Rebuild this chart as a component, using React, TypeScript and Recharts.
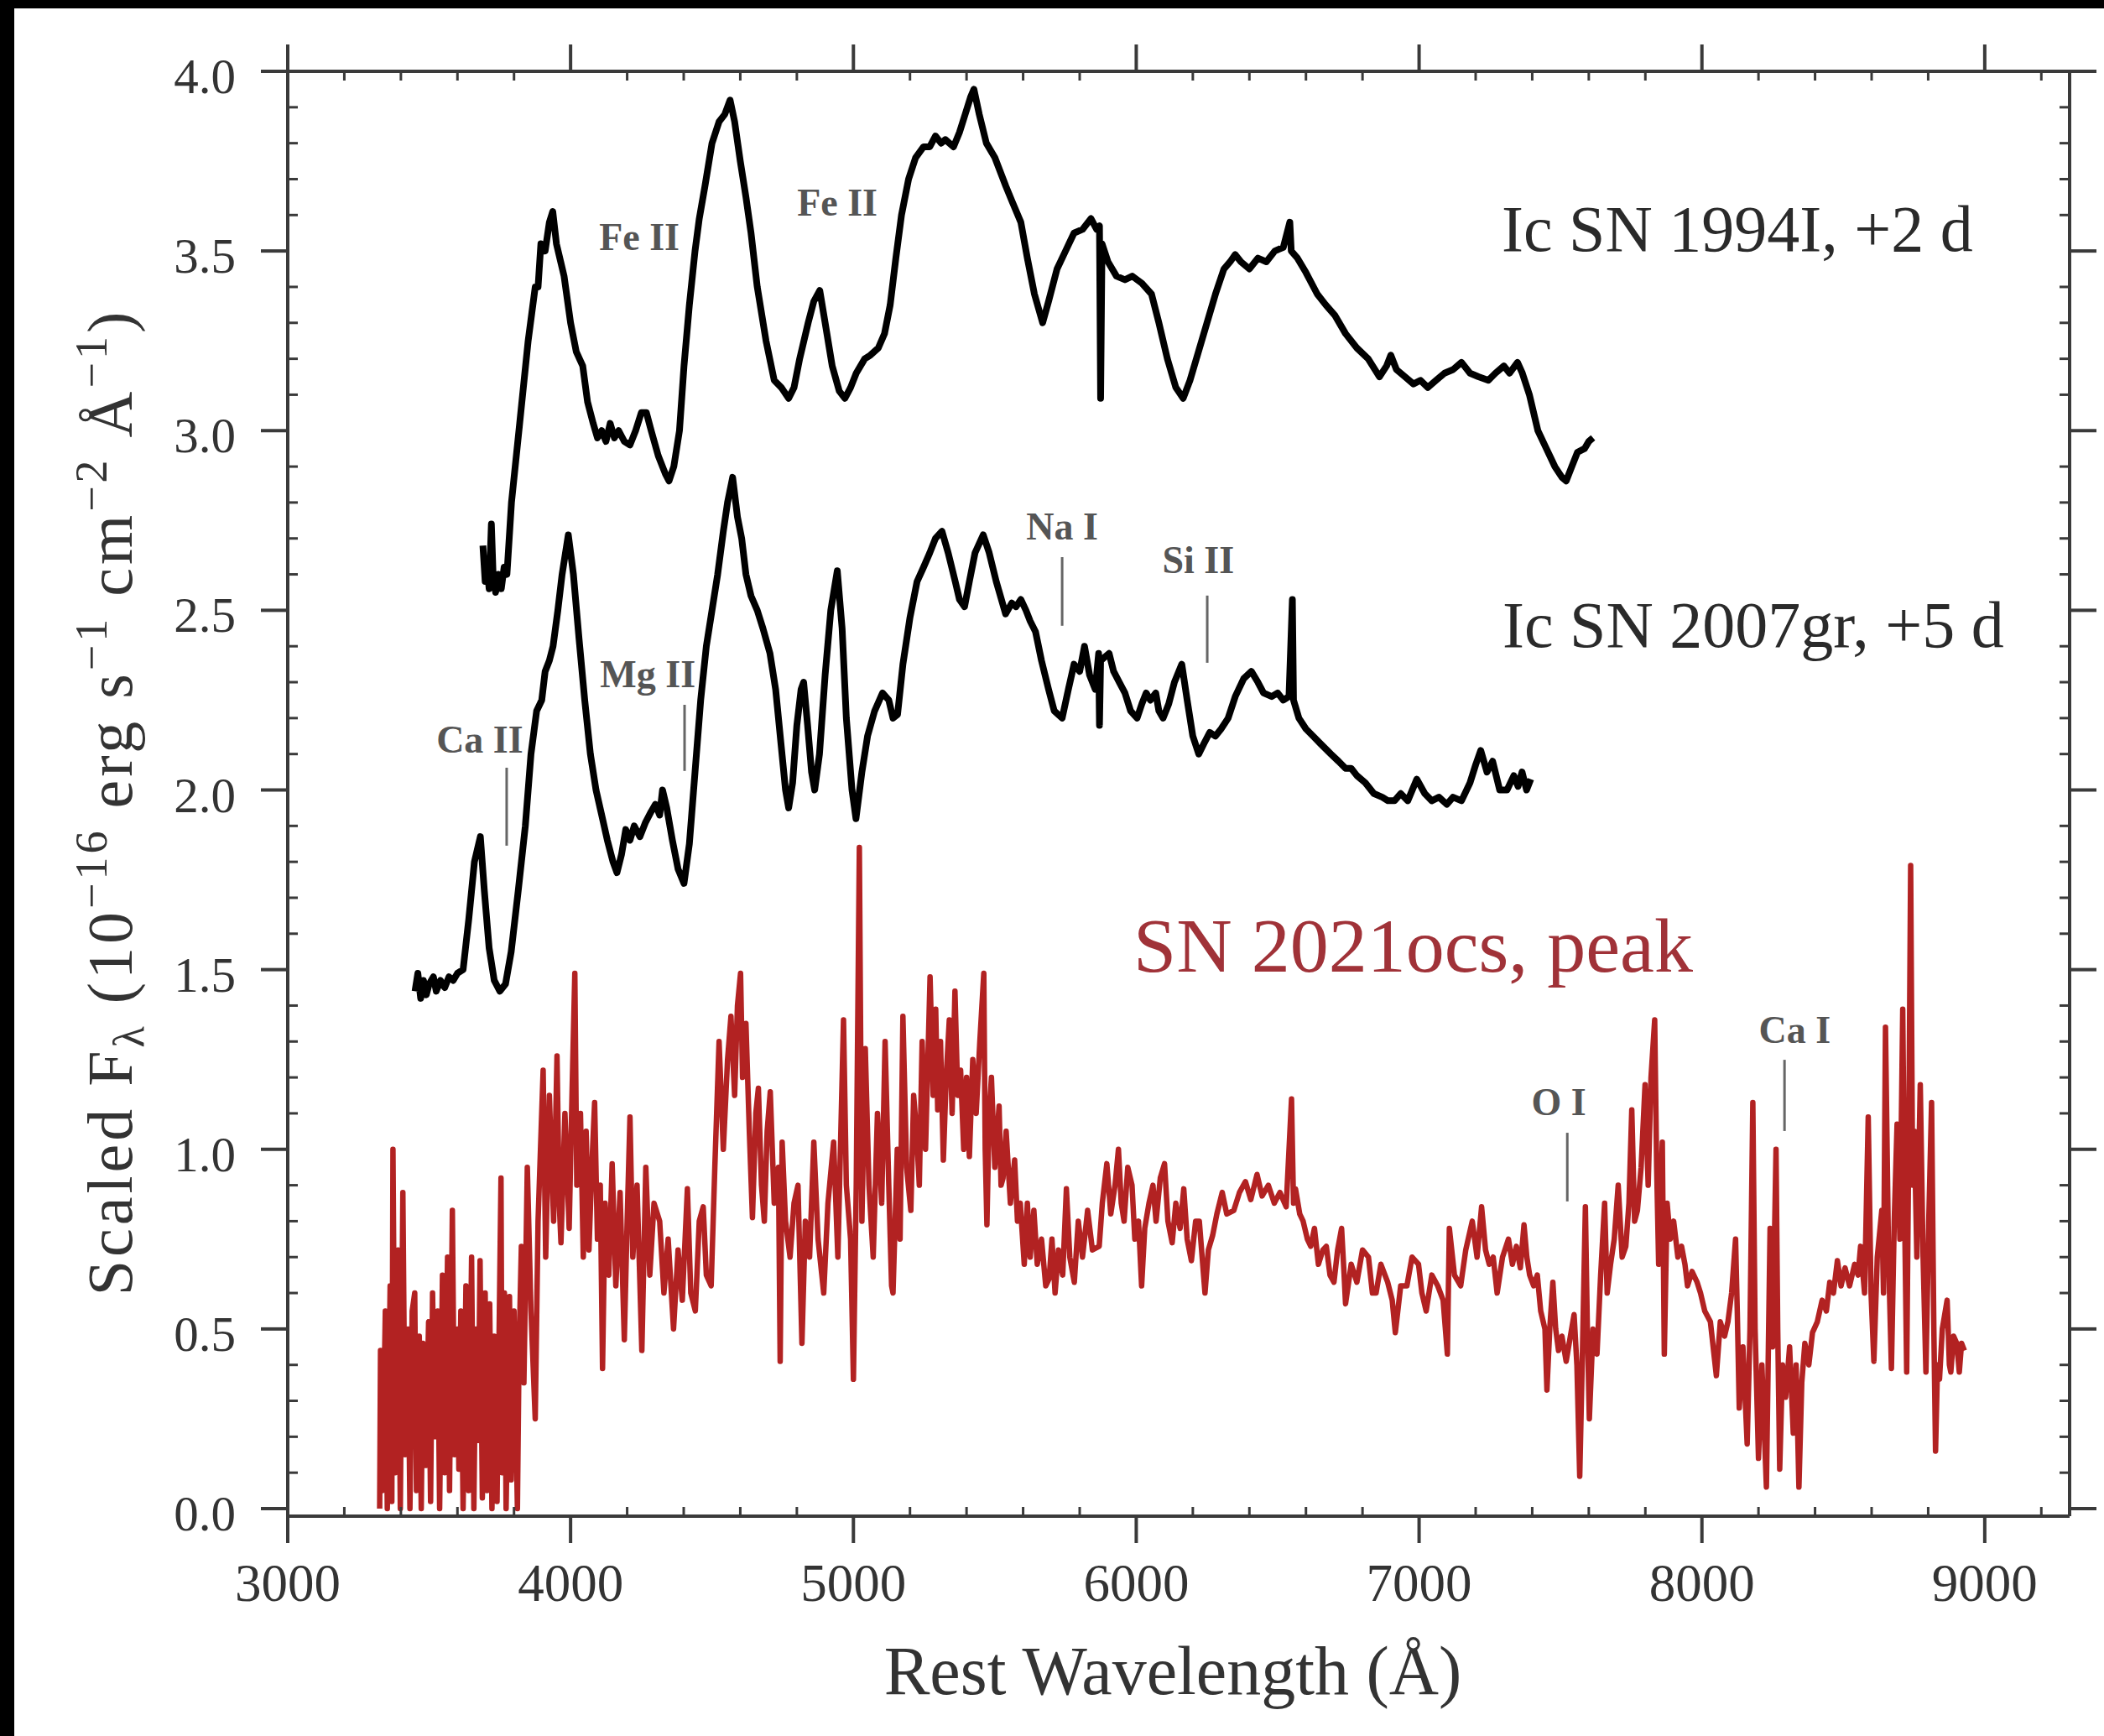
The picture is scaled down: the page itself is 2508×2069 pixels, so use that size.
import React from "react";
import { LineChart, Line, XAxis, YAxis, ReferenceLine, ReferenceDot } from "recharts";

// wavelength (Å), scaled flux
const SN1994I: [number, number][] = [
  [3690, 2.68], [3698, 2.58], [3705, 2.62], [3712, 2.56], [3720, 2.74], [3726, 2.6], [3735, 2.55],
  [3745, 2.6], [3755, 2.56], [3765, 2.62], [3775, 2.6], [3791, 2.8], [3820, 3.02], [3850, 3.25],
  [3875, 3.4], [3885, 3.4], [3895, 3.52], [3910, 3.5], [3925, 3.58], [3937, 3.61], [3950, 3.52],
  [3965, 3.47], [3977, 3.43], [4000, 3.3], [4020, 3.22], [4043, 3.18], [4060, 3.08], [4080, 3.02],
  [4095, 2.98], [4110, 3.0], [4125, 2.97], [4140, 3.02], [4155, 2.98], [4170, 3.0], [4190, 2.97],
  [4210, 2.96], [4230, 3.0], [4250, 3.05], [4268, 3.05], [4285, 3.0], [4310, 2.93], [4335, 2.88],
  [4348, 2.86], [4365, 2.9], [4385, 3.0], [4401, 3.18], [4420, 3.35], [4440, 3.5], [4455, 3.59],
  [4475, 3.68], [4500, 3.8], [4525, 3.86], [4545, 3.88], [4564, 3.92], [4580, 3.86], [4600, 3.75],
  [4620, 3.65], [4638, 3.55], [4660, 3.4], [4691, 3.25], [4720, 3.14], [4745, 3.12], [4771, 3.09],
  [4790, 3.12], [4810, 3.2], [4840, 3.3], [4860, 3.36], [4881, 3.39], [4900, 3.3], [4925, 3.18],
  [4950, 3.11], [4970, 3.09], [4990, 3.12], [5010, 3.16], [5040, 3.2], [5060, 3.21], [5088, 3.23],
  [5110, 3.27], [5130, 3.35], [5150, 3.48], [5170, 3.6], [5195, 3.7], [5220, 3.76], [5248, 3.79],
  [5270, 3.79], [5290, 3.82], [5310, 3.8], [5325, 3.81], [5354, 3.79], [5375, 3.83], [5395, 3.88],
  [5415, 3.93], [5426, 3.95], [5445, 3.88], [5470, 3.8], [5500, 3.76], [5539, 3.68], [5560, 3.64],
  [5592, 3.58], [5615, 3.48], [5640, 3.38], [5669, 3.3], [5690, 3.36], [5720, 3.45], [5750, 3.5],
  [5780, 3.55], [5810, 3.56], [5840, 3.59], [5860, 3.56], [5870, 3.57], [5874, 3.09], [5879, 3.52],
  [5900, 3.47], [5930, 3.43], [5960, 3.42], [5986, 3.43], [6020, 3.41], [6054, 3.38], [6080, 3.3],
  [6110, 3.2], [6140, 3.12], [6166, 3.09], [6190, 3.14], [6220, 3.22], [6250, 3.3], [6280, 3.38],
  [6310, 3.45], [6332, 3.47], [6350, 3.49], [6370, 3.47], [6400, 3.45], [6430, 3.48], [6460, 3.47],
  [6490, 3.5], [6520, 3.51], [6543, 3.58], [6548, 3.5], [6570, 3.48], [6600, 3.44], [6640, 3.38],
  [6670, 3.35], [6703, 3.32], [6740, 3.27], [6780, 3.23], [6820, 3.2], [6860, 3.15], [6885, 3.18],
  [6900, 3.21], [6920, 3.17], [6950, 3.15], [6980, 3.13], [7005, 3.14], [7031, 3.12], [7060, 3.14],
  [7090, 3.16], [7120, 3.17], [7150, 3.19], [7180, 3.16], [7210, 3.15], [7245, 3.14], [7270, 3.16],
  [7300, 3.18], [7320, 3.16], [7348, 3.19], [7365, 3.16], [7390, 3.1], [7420, 3.0], [7450, 2.95],
  [7480, 2.9], [7505, 2.87], [7520, 2.86], [7540, 2.9], [7560, 2.94], [7585, 2.95], [7600, 2.97],
  [7615, 2.98],
];

const SN2007GR: [number, number][] = [
  [3450, 1.44], [3460, 1.49], [3470, 1.42], [3480, 1.47], [3490, 1.43], [3500, 1.46], [3515, 1.48],
  [3525, 1.44], [3540, 1.47], [3555, 1.45], [3570, 1.48], [3585, 1.47], [3600, 1.49], [3620, 1.5],
  [3640, 1.64], [3660, 1.8], [3681, 1.87], [3695, 1.72], [3712, 1.56], [3730, 1.47], [3750, 1.44],
  [3770, 1.46], [3790, 1.55], [3815, 1.72], [3840, 1.9], [3860, 2.1], [3880, 2.22], [3898, 2.25],
  [3910, 2.33], [3925, 2.36], [3938, 2.4], [3955, 2.5], [3970, 2.6], [3992, 2.71], [4010, 2.6],
  [4030, 2.42], [4050, 2.25], [4070, 2.1], [4090, 2.0], [4110, 1.93], [4130, 1.86], [4150, 1.8],
  [4164, 1.77], [4180, 1.82], [4195, 1.89], [4210, 1.86], [4225, 1.9], [4245, 1.87], [4265, 1.91],
  [4285, 1.94], [4300, 1.96], [4315, 1.93], [4325, 2.0], [4340, 1.95], [4360, 1.86], [4380, 1.78],
  [4401, 1.74], [4420, 1.85], [4440, 2.05], [4460, 2.25], [4480, 2.4], [4500, 2.5], [4520, 2.6],
  [4540, 2.72], [4555, 2.8], [4573, 2.87], [4590, 2.76], [4605, 2.7], [4620, 2.6], [4638, 2.54],
  [4660, 2.5], [4680, 2.45], [4705, 2.38], [4725, 2.28], [4745, 2.12], [4760, 2.0], [4771, 1.95],
  [4785, 2.02], [4800, 2.18], [4815, 2.28], [4824, 2.3], [4838, 2.18], [4852, 2.05], [4863, 2.0],
  [4880, 2.1], [4900, 2.32], [4920, 2.5], [4943, 2.61], [4960, 2.45], [4975, 2.2], [4995, 2.0],
  [5009, 1.92], [5030, 2.05], [5050, 2.15], [5075, 2.22], [5103, 2.27], [5125, 2.25], [5140, 2.2],
  [5156, 2.21], [5175, 2.35], [5200, 2.48], [5225, 2.58], [5248, 2.62], [5270, 2.66], [5290, 2.7],
  [5313, 2.72], [5335, 2.66], [5360, 2.58], [5375, 2.53], [5393, 2.51], [5410, 2.58], [5430, 2.66],
  [5459, 2.71], [5480, 2.66], [5505, 2.58], [5538, 2.49], [5560, 2.52], [5575, 2.51], [5592, 2.53],
  [5610, 2.5], [5625, 2.47], [5644, 2.44], [5665, 2.36], [5690, 2.28], [5710, 2.22], [5738, 2.2],
  [5760, 2.28], [5780, 2.35], [5800, 2.33], [5817, 2.4], [5835, 2.32], [5855, 2.28], [5867, 2.38],
  [5870, 2.18], [5874, 2.36], [5904, 2.38], [5920, 2.33], [5940, 2.3], [5960, 2.27], [5980, 2.22],
  [6003, 2.2], [6020, 2.24], [6035, 2.27], [6050, 2.25], [6069, 2.27], [6080, 2.22], [6095, 2.2],
  [6115, 2.24], [6135, 2.3], [6161, 2.35], [6180, 2.25], [6200, 2.15], [6221, 2.1], [6240, 2.13],
  [6260, 2.16], [6280, 2.15], [6300, 2.17], [6325, 2.2], [6350, 2.26], [6380, 2.31], [6407, 2.33],
  [6430, 2.3], [6450, 2.27], [6479, 2.26], [6500, 2.27], [6520, 2.25], [6540, 2.26], [6552, 2.53],
  [6556, 2.25], [6575, 2.2], [6600, 2.17], [6625, 2.15], [6650, 2.13], [6688, 2.1], [6715, 2.08],
  [6740, 2.06], [6760, 2.06], [6780, 2.04], [6810, 2.02], [6840, 1.99], [6870, 1.98], [6890, 1.97],
  [6913, 1.97], [6935, 1.99], [6960, 1.97], [6992, 2.03], [7020, 1.99], [7045, 1.97], [7070, 1.98],
  [7098, 1.96], [7120, 1.98], [7150, 1.97], [7180, 2.02], [7200, 2.07], [7218, 2.11], [7240, 2.05],
  [7260, 2.08], [7285, 2.0], [7311, 2.0], [7335, 2.04], [7350, 2.01], [7364, 2.05], [7380, 2.0],
  [7395, 2.03],
];

const SN2021OCS: [number, number][] = [
  [3325, 0.0], [3328, 0.44], [3335, 0.05], [3345, 0.55], [3352, 0.0], [3362, 0.62], [3368, 0.02],
  [3372, 1.0], [3380, 0.1], [3390, 0.72], [3398, 0.0], [3407, 0.88], [3415, 0.15], [3425, 0.5],
  [3432, 0.0], [3440, 0.55], [3449, 0.6], [3455, 0.05], [3465, 0.48], [3472, 0.0], [3478, 0.46],
  [3488, 0.12], [3498, 0.52], [3505, 0.02], [3512, 0.6], [3520, 0.2], [3530, 0.55], [3537, 0.0],
  [3547, 0.65], [3555, 0.1], [3565, 0.7], [3572, 0.05], [3582, 0.83], [3590, 0.15], [3600, 0.5],
  [3605, 0.11], [3612, 0.55], [3620, 0.0], [3630, 0.62], [3640, 0.05], [3650, 0.7], [3658, 0.0],
  [3665, 0.5], [3673, 0.19], [3680, 0.69], [3688, 0.03], [3698, 0.6], [3705, 0.05], [3714, 0.57],
  [3722, 0.0], [3730, 0.48], [3740, 0.02], [3754, 0.92], [3758, 0.1], [3766, 0.6], [3772, 0.0],
  [3784, 0.59], [3790, 0.08], [3800, 0.55], [3812, 0.0], [3818, 0.45], [3826, 0.73], [3835, 0.35],
  [3847, 0.95], [3860, 0.55], [3875, 0.25], [3885, 0.8], [3903, 1.22], [3912, 0.7], [3925, 1.15],
  [3940, 0.8], [3952, 1.26], [3960, 0.85], [3966, 0.74], [3980, 1.1], [3995, 0.78], [4005, 1.15],
  [4015, 1.49], [4022, 0.9], [4035, 1.1], [4045, 0.7], [4055, 1.05], [4065, 0.72], [4075, 0.95],
  [4085, 1.13], [4095, 0.75], [4105, 0.9], [4113, 0.39], [4122, 0.85], [4135, 0.65], [4147, 0.96],
  [4160, 0.62], [4175, 0.88], [4190, 0.47], [4200, 0.8], [4210, 1.09], [4220, 0.7], [4235, 0.9],
  [4252, 0.44], [4266, 0.95], [4280, 0.65], [4295, 0.85], [4315, 0.8], [4330, 0.6], [4345, 0.75],
  [4364, 0.5], [4380, 0.72], [4395, 0.58], [4413, 0.89], [4425, 0.6], [4441, 0.55], [4455, 0.8],
  [4469, 0.84], [4480, 0.65], [4497, 0.62], [4510, 0.95], [4525, 1.3], [4540, 1.0], [4555, 1.25],
  [4567, 1.37], [4580, 1.15], [4590, 1.4], [4601, 1.49], [4608, 1.2], [4620, 1.35], [4632, 1.05],
  [4643, 0.81], [4655, 1.1], [4664, 1.17], [4675, 0.9], [4685, 0.8], [4695, 1.05], [4706, 1.16],
  [4720, 0.85], [4735, 0.95], [4741, 0.41], [4748, 1.02], [4760, 0.8], [4776, 0.7], [4790, 0.85],
  [4804, 0.9], [4818, 0.46], [4830, 0.8], [4845, 0.7], [4860, 1.02], [4875, 0.75], [4895, 0.6],
  [4910, 0.85], [4930, 1.02], [4945, 0.7], [4965, 1.36], [4975, 0.9], [4990, 0.75], [5000, 0.36],
  [5010, 0.9], [5021, 1.84], [5030, 0.8], [5042, 1.28], [5055, 0.9], [5070, 0.7], [5085, 1.1],
  [5100, 0.85], [5112, 1.3], [5125, 0.9], [5135, 0.62], [5140, 0.6], [5155, 1.0], [5165, 0.75],
  [5175, 1.37], [5188, 0.95], [5203, 0.83], [5213, 1.15], [5223, 1.05], [5233, 0.9], [5243, 1.3],
  [5255, 1.0], [5271, 1.48], [5282, 1.15], [5291, 1.39], [5298, 1.11], [5308, 1.3], [5318, 0.97],
  [5328, 1.2], [5339, 1.36], [5349, 1.1], [5359, 1.44], [5369, 1.15], [5379, 1.22], [5390, 1.0],
  [5400, 1.2], [5410, 0.98], [5422, 1.25], [5434, 1.1], [5447, 1.3], [5461, 1.49], [5466, 1.0],
  [5472, 0.79], [5480, 1.1], [5488, 1.2], [5500, 0.95], [5515, 1.12], [5522, 0.9], [5529, 0.92],
  [5540, 1.05], [5555, 0.85], [5570, 0.97], [5580, 0.8], [5590, 0.85], [5604, 0.68], [5615, 0.85],
  [5625, 0.7], [5638, 0.83], [5650, 0.68], [5665, 0.75], [5680, 0.62], [5692, 0.64], [5702, 0.75],
  [5713, 0.6], [5725, 0.72], [5740, 0.65], [5753, 0.89], [5765, 0.7], [5781, 0.63], [5795, 0.8],
  [5810, 0.7], [5828, 0.83], [5845, 0.72], [5869, 0.73], [5880, 0.85], [5896, 0.96], [5910, 0.82],
  [5925, 0.9], [5937, 1.0], [5947, 0.85], [5957, 0.8], [5970, 0.95], [5985, 0.9], [5995, 0.75],
  [6008, 0.8], [6019, 0.62], [6030, 0.78], [6045, 0.85], [6059, 0.9], [6070, 0.8], [6085, 0.92],
  [6100, 0.96], [6112, 0.8], [6127, 0.74], [6140, 0.85], [6155, 0.78], [6168, 0.89], [6180, 0.75],
  [6195, 0.69], [6210, 0.8], [6223, 0.8], [6235, 0.68], [6243, 0.6], [6255, 0.72], [6270, 0.76],
  [6285, 0.82], [6304, 0.88], [6320, 0.82], [6345, 0.83], [6365, 0.88], [6386, 0.91], [6405, 0.86],
  [6427, 0.93], [6445, 0.87], [6467, 0.9], [6488, 0.85], [6508, 0.88], [6530, 0.84], [6549, 1.14],
  [6556, 0.85], [6563, 0.89], [6578, 0.82], [6590, 0.8], [6605, 0.75], [6617, 0.73], [6630, 0.78],
  [6644, 0.68], [6660, 0.72], [6672, 0.73], [6685, 0.65], [6699, 0.63], [6712, 0.72], [6726, 0.78],
  [6735, 0.65], [6740, 0.57], [6760, 0.68], [6780, 0.63], [6800, 0.72], [6821, 0.7], [6835, 0.6],
  [6848, 0.6], [6865, 0.68], [6889, 0.63], [6905, 0.58], [6916, 0.49], [6935, 0.62], [6957, 0.62],
  [6975, 0.7], [6998, 0.68], [7010, 0.6], [7025, 0.55], [7045, 0.65], [7066, 0.62], [7085, 0.58],
  [7100, 0.43], [7107, 0.78], [7125, 0.65], [7147, 0.62], [7165, 0.72], [7188, 0.8], [7205, 0.7],
  [7221, 0.84], [7235, 0.72], [7248, 0.68], [7262, 0.7], [7276, 0.6], [7295, 0.7], [7316, 0.75],
  [7330, 0.68], [7344, 0.73], [7358, 0.67], [7371, 0.79], [7381, 0.7], [7391, 0.65], [7405, 0.62],
  [7418, 0.65], [7430, 0.55], [7445, 0.5], [7452, 0.33], [7462, 0.5], [7473, 0.63], [7483, 0.5],
  [7493, 0.44], [7505, 0.48], [7520, 0.41], [7535, 0.48], [7548, 0.54], [7558, 0.4], [7568, 0.09],
  [7578, 0.45], [7588, 0.84], [7595, 0.5], [7602, 0.25], [7615, 0.5], [7629, 0.43], [7642, 0.65],
  [7656, 0.85], [7665, 0.6], [7677, 0.68], [7690, 0.75], [7704, 0.9], [7718, 0.7], [7731, 0.73],
  [7742, 0.85], [7752, 1.11], [7762, 0.8], [7772, 0.83], [7785, 0.95], [7799, 1.18], [7810, 0.9],
  [7820, 1.2], [7833, 1.36], [7840, 0.95], [7847, 0.68], [7855, 0.9], [7860, 1.02], [7867, 0.43],
  [7877, 0.85], [7888, 0.75], [7900, 0.8], [7915, 0.7], [7928, 0.73], [7940, 0.68], [7949, 0.62],
  [7965, 0.66], [7983, 0.63], [7995, 0.6], [8010, 0.55], [8030, 0.52], [8051, 0.37], [8065, 0.52],
  [8080, 0.48], [8092, 0.52], [8105, 0.6], [8119, 0.75], [8125, 0.55], [8132, 0.28], [8145, 0.45],
  [8160, 0.18], [8170, 0.5], [8180, 1.13], [8188, 0.5], [8200, 0.14], [8212, 0.4], [8228, 0.06],
  [8235, 0.45], [8241, 0.78], [8250, 0.45], [8262, 1.0], [8268, 0.5], [8275, 0.11], [8285, 0.4],
  [8296, 0.31], [8310, 0.45], [8323, 0.21], [8333, 0.4], [8343, 0.06], [8353, 0.35], [8364, 0.46],
  [8378, 0.4], [8391, 0.49], [8408, 0.52], [8425, 0.58], [8440, 0.55], [8452, 0.63], [8465, 0.6],
  [8479, 0.69], [8492, 0.62], [8506, 0.67], [8522, 0.62], [8540, 0.68], [8552, 0.65], [8561, 0.73],
  [8575, 0.6], [8588, 1.09], [8598, 0.6], [8608, 0.41], [8620, 0.7], [8636, 0.83], [8642, 0.6],
  [8649, 1.34], [8660, 0.7], [8670, 0.39], [8680, 0.8], [8690, 1.07], [8700, 0.75], [8710, 1.39],
  [8717, 0.8], [8724, 0.38], [8731, 1.0], [8738, 1.79], [8745, 0.9], [8751, 1.05], [8760, 0.7],
  [8772, 1.18], [8782, 0.7], [8792, 0.38], [8802, 0.8], [8812, 1.13], [8820, 0.5], [8826, 0.16],
  [8833, 0.4], [8840, 0.36], [8850, 0.5], [8867, 0.58], [8875, 0.4], [8880, 0.38], [8890, 0.48],
  [8901, 0.46], [8910, 0.38], [8918, 0.46], [8928, 0.44],
];

const X_TICKS = [
  3000, 3200, 3400, 3600, 3800, 4000, 4200, 4400, 4600, 4800, 5000, 5200, 5400, 5600, 5800, 6000,
  6200, 6400, 6600, 6800, 7000, 7200, 7400, 7600, 7800, 8000, 8200, 8400, 8600, 8800, 9000, 9200,
];
const Y_TICKS = [
  0, 0.1, 0.2, 0.3, 0.4, 0.5, 0.6, 0.7, 0.8, 0.9, 1.0, 1.1, 1.2, 1.3, 1.4, 1.5, 1.6, 1.7, 1.8, 1.9,
  2.0, 2.1, 2.2, 2.3, 2.4, 2.5, 2.6, 2.7, 2.8, 2.9, 3.0, 3.1, 3.2, 3.3, 3.4, 3.5, 3.6, 3.7, 3.8, 3.9, 4.0,
];

// line identifications
const ION_NAMES = ["Fe II", "Fe II", "Ca II", "Mg II", "Na I", "Si II", "O I", "Ca I"];
const ION_TEXT_X = [4243, 4943, 3679, 4273, 5738, 6219, 7494, 8328];
const ION_TEXT_Y = [3.538, 3.634, 2.139, 2.321, 2.732, 2.639, 1.13, 1.331];
const ION_BAR_X = [null, null, 3774, 4403, 5738, 6251, 7524, 8292];
const ION_BAR_LO = [null, null, 1.845, 2.053, 2.457, 2.354, 0.855, 1.051];
const ION_BAR_HI = [null, null, 2.062, 2.237, 2.648, 2.541, 1.046, 1.249];

const SERIES_NAMES = ["Ic SN 1994I, +2 d", "Ic SN 2007gr, +5 d", "SN 2021ocs, peak"];
const SERIES_NAME_X = [7292, 7295, 5990];
const SERIES_NAME_Y = [3.561, 2.459, 1.565];

const toPts = (arr: [number, number][]) => arr.map(([w, f]) => ({ w, f }));

const SERIF = "'Liberation Serif', 'DejaVu Serif', serif";
const AXIS = "#3a3a3a";
const RED = "#b22222";

const isMajorX = (v: number) => v % 1000 === 0;
const isMajorY = (v: number) => Math.abs(v * 2 - Math.round(v * 2)) < 1e-6;

const BottomTick = ({ x, y, payload }: any) => {
  const v = payload.value;
  if (!isMajorX(v)) return <line x1={x} y1={y} x2={x} y2={y - 11} stroke={AXIS} strokeWidth={3} />;
  return (
    <g>
      <line x1={x} y1={y} x2={x} y2={y + 32} stroke={AXIS} strokeWidth={4} />
      <text x={x} y={y + 101} textAnchor="middle" fontFamily={SERIF} fontSize={63} fill="#333">
        {v}
      </text>
    </g>
  );
};

const TopTick = ({ x, y, payload }: any) => {
  const v = payload.value;
  if (!isMajorX(v)) return <line x1={x} y1={y} x2={x} y2={y + 11} stroke={AXIS} strokeWidth={3} />;
  return <line x1={x} y1={y} x2={x} y2={y - 32} stroke={AXIS} strokeWidth={4} />;
};

const LeftTick = ({ x, y, payload }: any) => {
  const v = payload.value;
  if (!isMajorY(v)) return <line x1={x} y1={y} x2={x + 12} y2={y} stroke={AXIS} strokeWidth={3} />;
  return (
    <g>
      <line x1={x} y1={y} x2={x - 32} y2={y} stroke={AXIS} strokeWidth={4} />
      <text x={x - 62} y={y + 26} textAnchor="end" fontFamily={SERIF} fontSize={59} fill="#333">
        {v.toFixed(1)}
      </text>
    </g>
  );
};

const RightTick = ({ x, y, payload }: any) => {
  const v = payload.value;
  if (!isMajorY(v)) return <line x1={x} y1={y} x2={x - 12} y2={y} stroke={AXIS} strokeWidth={3} />;
  return <line x1={x} y1={y} x2={x + 32} y2={y} stroke={AXIS} strokeWidth={4} />;
};

const textShape = (label: string, size: number, fill: string, anchor: string, weight = "normal") =>
  (p: any) => (
    <text
      x={p.cx}
      y={p.cy + size * 0.33}
      textAnchor={anchor}
      fontFamily={SERIF}
      fontSize={size}
      fontWeight={weight}
      fill={fill}
    >
      {label}
    </text>
  );

export default function App() {
  const W = 2508;
  const H = 2069;
  const sup = 54;

  return (
    <div style={{ position: "absolute", left: 0, top: 0, width: W, height: H, background: "#fff", overflow: "hidden" }}>
      <LineChart
        width={W}
        height={H}
        margin={{ top: 75, right: 31, bottom: 252, left: 333 }}
        style={{ position: "absolute", left: 0, top: 0 }}
      >
        <XAxis
          xAxisId="b"
          dataKey="w"
          type="number"
          domain={[3000, 9300]}
          allowDataOverflow
          ticks={X_TICKS}
          interval={0}
          height={10}
          tickSize={0}
          tickMargin={0}
          tickLine={false}
          axisLine={{ stroke: AXIS, strokeWidth: 4 }}
          tick={BottomTick}
        />
        <XAxis
          xAxisId="t"
          orientation="top"
          dataKey="w"
          type="number"
          domain={[3000, 9300]}
          allowDataOverflow
          ticks={X_TICKS}
          interval={0}
          height={10}
          tickSize={0}
          tickMargin={0}
          tickLine={false}
          axisLine={{ stroke: AXIS, strokeWidth: 4 }}
          tick={TopTick}
        />
        <YAxis
          yAxisId="l"
          type="number"
          domain={[-0.021, 4.0]}
          allowDataOverflow
          ticks={Y_TICKS}
          interval={0}
          width={10}
          tickSize={0}
          tickMargin={0}
          tickLine={false}
          axisLine={{ stroke: AXIS, strokeWidth: 4 }}
          tick={LeftTick}
        />
        <YAxis
          yAxisId="r"
          orientation="right"
          type="number"
          domain={[-0.021, 4.0]}
          allowDataOverflow
          ticks={Y_TICKS}
          interval={0}
          width={10}
          tickSize={0}
          tickMargin={0}
          tickLine={false}
          axisLine={{ stroke: AXIS, strokeWidth: 4 }}
          tick={RightTick}
        />

        <Line
          xAxisId="b"
          yAxisId="l"
          data={toPts(SN2021OCS)}
          dataKey="f"
          stroke={RED}
          strokeWidth={6.5}
          strokeLinejoin="round"
          dot={false}
          isAnimationActive={false}
        />
        <Line
          xAxisId="b"
          yAxisId="l"
          data={toPts(SN2007GR)}
          dataKey="f"
          stroke="#000"
          strokeWidth={8}
          strokeLinejoin="round"
          dot={false}
          isAnimationActive={false}
        />
        <Line
          xAxisId="b"
          yAxisId="l"
          data={toPts(SN1994I)}
          dataKey="f"
          stroke="#000"
          strokeWidth={8}
          strokeLinejoin="round"
          dot={false}
          isAnimationActive={false}
        />

        {ION_BAR_X.map((bx, i) =>
          bx == null ? null : (
            <ReferenceLine
              key={`bar${i}`}
              xAxisId="b"
              yAxisId="l"
              segment={[
                { x: bx, y: ION_BAR_LO[i] as number },
                { x: bx, y: ION_BAR_HI[i] as number },
              ]}
              stroke="#666"
              strokeWidth={3}
            />
          )
        )}
        {ION_NAMES.map((name, i) => (
          <ReferenceDot
            key={`ion${i}`}
            xAxisId="b"
            yAxisId="l"
            x={ION_TEXT_X[i]}
            y={ION_TEXT_Y[i]}
            r={0}
            shape={textShape(name, 46, "#555", "middle", "bold")}
          />
        ))}
        {SERIES_NAMES.map((name, i) => (
          <ReferenceDot
            key={`sn${i}`}
            xAxisId="b"
            yAxisId="l"
            x={SERIES_NAME_X[i]}
            y={SERIES_NAME_Y[i]}
            r={0}
            shape={textShape(name, i === 2 ? 92 : 78, i === 2 ? "#a03238" : "#2a2a2a", "start")}
          />
        ))}
      </LineChart>

      <svg width={W} height={H} style={{ position: "absolute", left: 0, top: 0, pointerEvents: "none" }}>
        <text x={1398} y={2019} textAnchor="middle" fontFamily={SERIF} fontSize={82} fill="#333">
          Rest Wavelength (Å)
        </text>
        <text
          x={157}
          y={956}
          transform="rotate(-90 157 956)"
          textAnchor="middle"
          fontFamily={SERIF}
          fontSize={76}
          letterSpacing={4}
          fill="#333"
        >
          Scaled F<tspan dy={14} fontSize={52}>λ</tspan>
          <tspan dy={-14}> (10</tspan>
          <tspan dy={-30} fontSize={sup}>−16</tspan>
          <tspan dy={30}> erg s</tspan>
          <tspan dy={-30} fontSize={sup}>−1</tspan>
          <tspan dy={30}> cm</tspan>
          <tspan dy={-30} fontSize={sup}>−2</tspan>
          <tspan dy={30}> Å</tspan>
          <tspan dy={-30} fontSize={sup}>−1</tspan>
          <tspan dy={30}>)</tspan>
        </text>
      </svg>

      <div style={{ position: "absolute", left: 0, top: 0, width: W, height: 10, background: "#000" }} />
      <div style={{ position: "absolute", left: 0, top: 0, width: 17, height: H, background: "#000" }} />
    </div>
  );
}
